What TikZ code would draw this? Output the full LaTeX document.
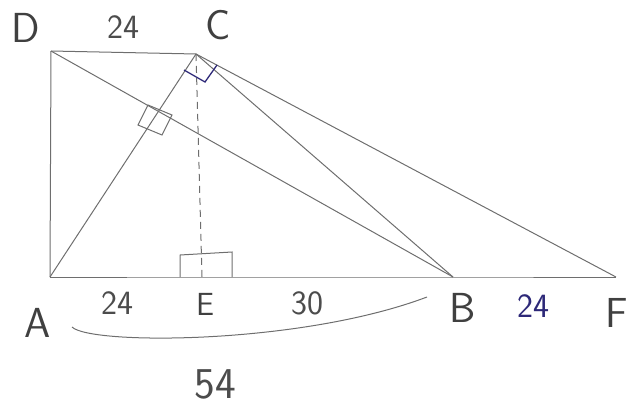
\documentclass[tikz,border=0pt]{standalone}
\usepackage{xcolor}
\usepackage{tikz}
\usetikzlibrary{positioning,arrows.meta,calc}

\definecolor{pencil}{RGB}{110,110,110}
\definecolor{inkblue}{RGB}{45,40,120}

\begin{document}
\begin{tikzpicture}[x=1pt, y=-1pt,
      seg/.style={draw=pencil, line width=1pt},
      hidden/.style={seg, dashed, dash pattern=on 7pt off 5pt},
      rightmark/.style={draw=pencil, line width=1pt},
      bluemark/.style={draw=inkblue, line width=1.3pt},
      ptlabel/.style={font=\sffamily\fontsize{42}{42}\selectfont, text=black!75, inner sep=0pt},
      numlabel/.style={font=\sffamily\fontsize{34}{34}\selectfont, text=black!70, inner sep=0pt},
    ]
    \useasboundingbox (0,0) rectangle (629,407);
    % points of the figure
    \coordinate (D) at (51,51);
    \coordinate (C) at (196,54);
    \coordinate (A) at (50,277);
    \coordinate (E) at (202,277);
    \coordinate (B) at (453,277);
    \coordinate (F) at (616,277);
    \coordinate (braceL) at (72,327);
    \coordinate (braceR) at (427,297);

    \draw[seg] (D) -- (C);
    \draw[seg] (D) -- (A);
    \draw[seg] (A) -- (E) -- (B) -- (F);
    \draw[seg] (A) -- (C);
    \draw[seg] (D) -- (B);
    \draw[seg] (C) -- (B);
    \draw[seg] (C) -- (F);
    \draw[hidden] (C) -- (E);

    % right angle marks
    \draw[rightmark] (148,105) -- (138,125) -- (162,135) -- (172,115) -- cycle;
    \draw[rightmark] (180,277) -- (180,255) -- (232,252) -- (232,277);
    \draw[bluemark] (184,70) -- (205,82) -- (217,65);

    \node[ptlabel] (lD) at (26,28) {D};
    \node[numlabel] (lDC) at (123,27) {24};
    \node[ptlabel] (lC) at (218,25) {C};
    \node[ptlabel] (lA) at (38,323) {A};
    \node[numlabel] (lAE) at (117,303) {24};
    \node[ptlabel, font=\sffamily\fontsize{32}{32}\selectfont] (lE) at (205,304) {E};
    \node[numlabel] (lEB) at (307,303) {30};
    \node[ptlabel] (lB) at (463,308) {B};
    \node[numlabel, text=inkblue] (lBF) at (533,306) {24};
    \node[ptlabel] (lF) at (617,313) {F};

    % brace under A--B
    \draw[seg] (braceL) .. controls (90,345) and (300,345) .. (braceR);
    \node[numlabel, font=\sffamily\fontsize{44}{44}\selectfont] (lAB) at (215,384) {54};
  \end{tikzpicture}
\end{document}
